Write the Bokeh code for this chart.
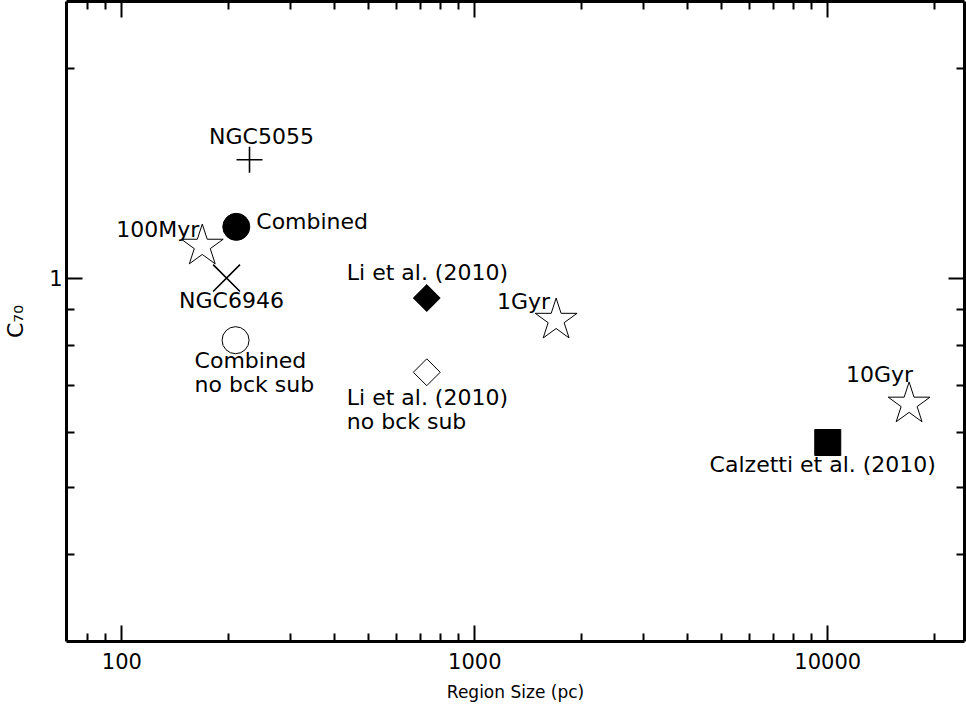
import numpy as np
from bokeh.plotting import figure
from bokeh.models import LogAxis, FixedTicker, NumeralTickFormatter, CustomJSTickFormatter, Range1d, ColumnDataSource
from bokeh.core.properties import value
from bokeh.embed import file_html
from bokeh.resources import INLINE

# ---------------- data ----------------
obs_labels = ["NGC5055", "Combined", "NGC6946", "Combined\nno bck sub",
              "Li et al. (2010)", "Li et al. (2010)\nno bck sub", "Calzetti et al. (2010)"]
obs_size_pc = [230, 211, 198, 210, 731, 731, 10000]
obs_c70 = [1.48, 1.185, 1.0, 0.814, 0.936, 0.732, 0.580]

model_labels = ["100Myr", "1Gyr", "10Gyr"]
model_size_pc = [169, 1700, 17000]
model_c70 = [1.112, 0.870, 0.659]

x_major_ticks = [100, 1000, 10000]
x_minor_ticks = [80, 90, 200, 300, 400, 500, 600, 700, 800, 900,
                 2000, 3000, 4000, 5000, 6000, 7000, 8000, 9000, 20000]
y_major_ticks = [1]
y_minor_ticks = [0.4, 0.5, 0.6, 0.7, 0.8, 0.9, 2]

# ---------------- styles ----------------
obs_marker = ["cross", "circle", "x", "circle", "square", "square", "square"]
obs_msize = [26, 27, 38, 27, 19, 19, 26]
obs_fill = ["black", "black", "black", "white", "black", "white", "black"]
obs_angle = [0, 0, 0, 0, np.pi / 4, np.pi / 4, 0]
obs_lw = [1.6, 1, 1.6, 1, 1, 1, 1]
obs_align = ["center", "left", "center", "left", "left", "left", "center"]
obs_dx = [12, 20, 5, -41, -80, -80, -5]
obs_dy = [-23, -5, 22, 32, -26, 37, 22]

model_align = ["right", "right", "right"]
model_dx = [-3, -6, 4]
model_dy = [-17, -19, -29]

FONT = "DejaVu Sans"

p = figure(width=966, height=713, x_axis_type="log", y_axis_type="log",
           x_range=Range1d(69.7, 24400), y_range=Range1d(0.3, 2.5),
           output_backend="svg", toolbar_location=None,
           min_border_left=64, min_border_right=2, min_border_top=1, min_border_bottom=72)
p.grid.visible = False
p.outline_line_color = None
p.background_fill_color = "white"
p.border_fill_color = "white"

p.add_layout(LogAxis(), "right")
p.add_layout(LogAxis(), "above")


def style_axis(ax, major, minor, labelled):
    ax.ticker = FixedTicker(ticks=major, minor_ticks=minor)
    ax.axis_line_width = 3
    ax.axis_line_color = "black"
    ax.major_tick_in = 16
    ax.major_tick_out = 0
    ax.minor_tick_in = 8
    ax.minor_tick_out = 0
    ax.major_tick_line_width = 2
    ax.minor_tick_line_width = 2
    ax.major_tick_line_color = "black"
    ax.minor_tick_line_color = "black"
    ax.major_label_text_font = FONT
    ax.major_label_text_color = "black"
    ax.axis_label_text_font = FONT
    ax.axis_label_text_font_style = "normal"
    ax.axis_label_text_color = "black"
    if labelled:
        ax.formatter = NumeralTickFormatter(format="0")
    else:
        ax.formatter = CustomJSTickFormatter(code="return ''")
        ax.major_label_standoff = 0
        ax.axis_label = None


for ax in p.below + p.above:
    style_axis(ax, x_major_ticks, x_minor_ticks, ax in p.below)
for ax in p.left + p.right:
    style_axis(ax, y_major_ticks, y_minor_ticks, ax in p.left)

xa = p.below[0]
xa.axis_label = "Region Size (pc)"
xa.major_label_text_font_size = "21px"
xa.axis_label_text_font_size = "17px"
xa.major_label_standoff = 11
xa.axis_label_standoff = 10

ya = p.left[0]
ya.axis_label = "C\u2087\u2080"
ya.major_label_text_font_size = "21px"
ya.axis_label_text_font_size = "22px"
ya.major_label_standoff = 4
ya.axis_label_standoff = 18

# ---------------- markers ----------------
obs_src = ColumnDataSource(dict(x=obs_size_pc, y=obs_c70, label=obs_labels,
                                marker=obs_marker, size=obs_msize, fill=obs_fill,
                                angle=obs_angle, lw=obs_lw, align=obs_align,
                                dx=obs_dx, dy=obs_dy))
p.scatter(x="x", y="y", marker="marker", size="size", fill_color="fill",
          line_color="black", line_width="lw", angle="angle", source=obs_src)

model_src = ColumnDataSource(dict(x=model_size_pc, y=model_c70, label=model_labels,
                                  align=model_align, dx=model_dx, dy=model_dy))
p.scatter(x="x", y="y", marker="star", size=44, fill_color="white",
          line_color="black", line_width=1, source=model_src)

for src in (obs_src, model_src):
    p.text(x="x", y="y", text="label", x_offset="dx", y_offset="dy",
           text_align="align", text_baseline="middle",
           text_font=value(FONT), text_font_size="22px", text_color="black",
           text_line_height=0.95, source=src)

open("out.html", "w").write(file_html(p, INLINE))
